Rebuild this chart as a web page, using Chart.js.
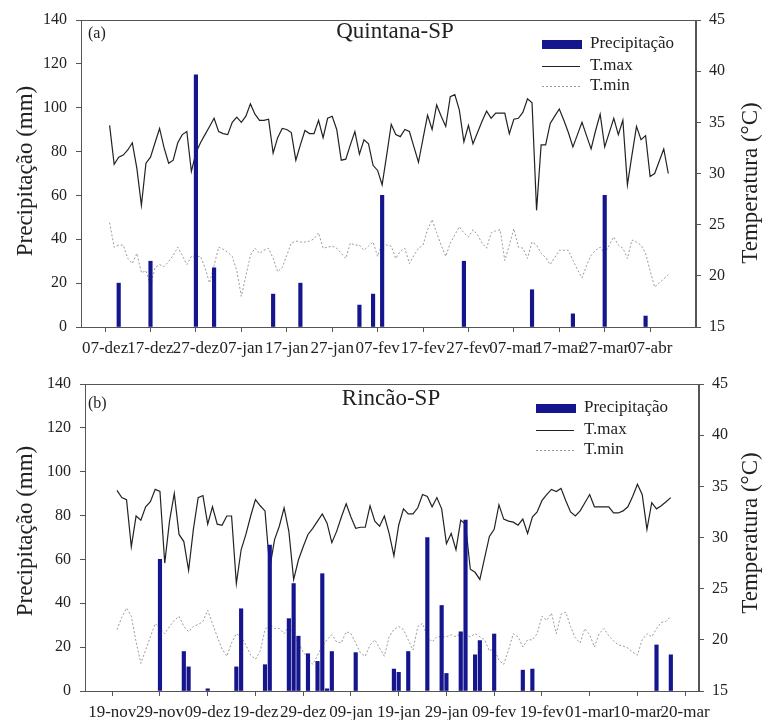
<!DOCTYPE html>
<html>
<head>
<meta charset="utf-8">
<script src="https://cdn.jsdelivr.net/npm/chart.js"></script>
<style>
  body { margin: 0; background: #fff; }
  .panel { position: absolute; left: 0; width: 767px; }
</style>
</head>
<body>
<div class="panel" style="top:0;height:365px"><canvas id="chartA"></canvas></div>
<div class="panel" style="top:365px;height:355px"><canvas id="chartB"></canvas></div>
<script>
// (a) Quintana-SP, daily values, day 0 = 07-dez
const labelsA = ['07-dez', '17-dez', '27-dez', '07-jan', '17-jan', '27-jan', '07-fev', '17-fev', '27-fev', '07-mar', '17-mar', '27-mar', '07-abr']
const tmaxA = [
  34.7, 30.9, 31.6, 31.8, 32.3, 33.0, 30.5, 26.9, 31.0, 31.6,
  33.0, 34.4, 32.5, 31.0, 31.3, 33.0, 33.8, 34.1, 30.2, 32.0,
  33.0, 33.8, 34.6, 35.4, 34.1, 33.9, 33.8, 35.0, 35.5, 35.0,
  35.6, 36.8, 35.8, 35.2, 35.2, 35.3, 32.0, 33.5, 34.4, 34.3,
  34.0, 31.3, 32.8, 34.2, 33.9, 33.9, 35.2, 33.5, 35.4, 35.6,
  34.3, 31.3, 31.4, 32.8, 34.1, 31.9, 33.3, 32.9, 30.8, 30.3,
  28.9, 31.8, 34.8, 33.8, 33.6, 34.3, 34.1, 32.6, 31.1, 33.4,
  35.7, 34.3, 36.7, 35.6, 34.6, 37.5, 37.7, 36.2, 33.1, 34.7,
  32.9, 34.0, 35.1, 36.1, 35.4, 35.9, 35.9, 35.9, 33.9, 35.3,
  35.4, 36.0, 37.3, 36.9, 26.4, 32.8, 32.8, 34.9, 35.6, 36.3,
  35.2, 34.0, 32.6, 33.8, 35.0, 33.7, 32.4, 34.2, 35.8, 32.6,
  34.0, 35.4, 33.8, 35.2, 28.9, 31.8, 34.6, 33.3, 33.7, 29.7,
  30.0, 31.2, 32.4, 30.0
]
const tminA = [
  25.2, 22.8, 23.0, 23.0, 21.7, 21.2, 22.2, 20.3, 20.5, 19.0,
  20.8, 21.1, 20.9, 21.4, 22.0, 22.8, 22.0, 21.1, 21.9, 21.9,
  21.9, 20.8, 19.3, 21.0, 22.8, 22.6, 22.3, 21.9, 20.5, 18.0,
  20.0, 22.0, 22.7, 22.2, 22.5, 22.7, 21.7, 20.4, 20.8, 22.0,
  23.2, 23.4, 23.3, 23.3, 23.4, 23.6, 24.2, 22.7, 22.8, 22.9,
  22.7, 22.2, 21.7, 23.2, 23.0, 23.0, 22.5, 22.9, 23.3, 21.9,
  23.2, 23.0, 22.9, 21.7, 22.4, 22.7, 21.2, 22.0, 22.7, 23.0,
  24.5, 25.5, 24.2, 23.0, 21.9, 23.2, 24.0, 24.8, 24.2, 23.8,
  24.5, 24.0, 23.2, 22.7, 24.2, 24.4, 24.5, 21.5, 23.0, 24.6,
  22.8, 22.7, 21.7, 23.3, 23.0, 22.2, 21.8, 21.1, 21.8, 22.5,
  22.5, 22.5, 21.5, 20.6, 19.8, 21.0, 22.0, 22.5, 22.8, 22.2,
  23.0, 23.8, 23.0, 22.7, 21.7, 23.5, 23.3, 23.0, 22.2, 20.5,
  18.9, 19.3, 19.7, 20.1
]
const rainDaysA = [3, 10, 20, 24, 37, 43, 56, 59, 61, 79, 94, 103, 110, 119]
const rainA = [20, 30, 115, 27, 15, 20, 10, 15, 60, 30, 17, 6, 60, 5]

// (b) Rincão-SP, daily values, day 0 = 19-nov
const labelsB = ['19-nov', '29-nov', '09-dez', '19-dez', '29-dez', '09-jan', '19-jan', '29-jan', '09-fev', '19-fev', '01-mar', '10-mar', '20-mar']
const tmaxB = [
  34.6, 33.9, 33.7, 29.1, 32.1, 31.7, 33.0, 33.5, 34.7, 34.5,
  27.5, 31.6, 34.3, 30.3, 29.6, 26.8, 30.8, 33.9, 34.1, 31.3,
  33.0, 31.3, 31.2, 32.1, 32.1, 25.5, 28.8, 30.3, 32.1, 33.7,
  33.1, 32.6, 27.0, 29.8, 31.1, 32.9, 30.6, 25.9, 27.8, 29.1,
  30.3, 30.9, 31.6, 32.3, 31.4, 29.5, 30.6, 32.0, 33.3, 32.0,
  30.9, 31.0, 31.0, 33.1, 31.6, 31.1, 32.1, 30.4, 28.2, 31.2,
  32.8, 32.3, 32.3, 32.9, 34.2, 34.0, 33.0, 33.9, 32.8, 29.4,
  30.4, 28.8, 31.7, 31.3, 26.9, 26.6, 25.9, 28.0, 30.1, 30.8,
  33.2, 31.8, 31.6, 31.5, 31.2, 31.8, 30.4, 32.0, 32.5, 33.6,
  34.2, 34.7, 34.5, 34.8, 33.6, 32.5, 32.1, 32.6, 33.4, 34.2,
  33.0, 33.0, 33.0, 33.0, 32.4, 32.4, 32.6, 33.0, 34.0, 35.2,
  34.2, 30.8, 33.4, 32.8, 33.1, 33.5, 33.9
]
const tminB = [
  21.0, 22.2, 23.1, 22.3, 19.8, 17.7, 19.0, 20.3, 21.6, 21.1,
  20.6, 21.3, 21.9, 22.3, 21.3, 20.8, 21.3, 21.5, 21.8, 22.9,
  21.6, 20.3, 19.1, 18.4, 19.7, 20.6, 20.3, 19.5, 18.5, 18.1,
  18.9, 21.0, 21.5, 21.1, 21.1, 20.6, 21.3, 20.5, 19.7, 18.8,
  18.2, 17.6, 18.5, 19.4, 20.0, 20.5, 19.8, 19.7, 20.8, 20.6,
  19.7, 18.7, 18.4, 19.5, 20.0, 19.2, 18.4, 20.3, 21.0, 21.3,
  21.0, 20.0, 19.0, 21.3, 21.6, 20.3, 19.8, 20.3, 20.3, 20.3,
  20.5, 20.3, 20.6, 20.5, 20.3, 20.6, 20.3, 20.0, 18.9, 19.2,
  18.0, 17.6, 19.0, 20.6, 20.3, 19.3, 20.0, 20.0, 20.6, 22.3,
  21.9, 22.6, 20.6, 22.5, 22.7, 21.3, 20.2, 19.7, 21.1, 20.5,
  19.3, 20.6, 21.1, 20.4, 19.9, 19.5, 19.4, 19.2, 18.8, 18.5,
  20.0, 20.6, 20.3, 21.1, 21.7, 21.8, 22.3
]
const rainDaysB = [10, 15, 16, 20, 26, 27, 32, 33, 37, 38, 39, 41, 43, 44, 45, 46, 51, 59, 60, 62, 66, 69, 70, 73, 74, 76, 77, 80, 86, 88, 114, 117]
const rainB = [60, 18, 11, 1, 11, 37.5, 12, 66.5, 33, 49, 25, 17, 13.5, 53.5, 1, 18, 17.5, 10, 8.5, 18, 70, 39, 8, 27, 78, 16.5, 23, 26, 9.5, 10, 21, 16.5]

const xTicks = [0, 10, 20, 30, 40, 50, 60, 70, 80, 90, 100, 110, 120]

const FONT = "'Liberation Serif', 'Times New Roman', serif"
const TEXT = '#222'
const AXIS = '#555'
const BLUE = '#15158e'

// frame, legend, titles drawn inside the plot
const decorations = {
  id: 'decorations',
  afterDraw(chart, args, o) {
    const { ctx, chartArea: a } = chart
    ctx.save()
    ctx.strokeStyle = AXIS
    ctx.lineWidth = 1
    ctx.strokeRect(Math.round(a.left) + 0.5, Math.round(a.top) + 0.5, Math.round(a.right - a.left) - 1, Math.round(a.bottom - a.top))

    ctx.fillStyle = TEXT
    ctx.textBaseline = 'middle'
    ctx.font = '16px ' + FONT
    ctx.textAlign = 'left'
    ctx.fillText(o.tag, 88, a.top + o.tagY)

    ctx.font = '23px ' + FONT
    ctx.textAlign = 'center'
    ctx.fillText(o.title, o.titleX, a.top + o.titleY)

    // legend
    const lx = o.legendX
    ctx.fillStyle = BLUE
    ctx.fillRect(lx, a.top + 20, 40, 9)
    ctx.strokeStyle = '#222'
    ctx.lineWidth = 1.2
    ctx.beginPath()
    ctx.moveTo(lx, a.top + 46.5)
    ctx.lineTo(lx + 38, a.top + 46.5)
    ctx.stroke()
    ctx.strokeStyle = '#999'
    ctx.lineWidth = 1
    ctx.setLineDash([2, 2])
    ctx.beginPath()
    ctx.moveTo(lx, a.top + 66.5)
    ctx.lineTo(lx + 38, a.top + 66.5)
    ctx.stroke()
    ctx.setLineDash([])
    ctx.fillStyle = TEXT
    ctx.font = '17px ' + FONT
    ctx.textAlign = 'left'
    ctx.fillText('Precipitação', lx + 48, a.top + 24)
    ctx.fillText('T.max', lx + 48, a.top + 46)
    ctx.fillText('T.min', lx + 48, a.top + 66)

    // axis titles, both reading bottom to top
    ctx.font = '23px ' + FONT
    ctx.textAlign = 'center'
    ctx.save()
    ctx.translate(26, o.leftTitleY)
    ctx.rotate(-Math.PI / 2)
    ctx.fillText('Precipitação (mm)', 0, 0)
    ctx.restore()
    ctx.save()
    ctx.translate(751, o.rightTitleY)
    ctx.rotate(-Math.PI / 2)
    ctx.fillText('Temperatura (°C)', 0, 0)
    ctx.restore()
    ctx.restore()
  }
}

function toPoints(values, firstDay) {
  return values.map((v, i) => ({ x: firstDay + i, y: v }))
}

function makePanel(canvasId, p) {
  const tickFont = { family: FONT, size: 16 }
  return new Chart(document.getElementById(canvasId), {
    type: 'bar',
    data: {
      datasets: [
        {
          label: 'Precipitação',
          data: p.rainDays.map((d, i) => ({ x: d, y: p.rain[i] })),
          backgroundColor: BLUE,
          barThickness: 3.5,
          yAxisID: 'y',
          order: 0
        },
        {
          type: 'line',
          label: 'T.max',
          data: toPoints(p.tmax, 1),
          borderColor: '#222',
          borderWidth: 1.2,
          pointRadius: 0,
          tension: 0,
          yAxisID: 'y2',
          order: 1
        },
        {
          type: 'line',
          label: 'T.min',
          data: toPoints(p.tmin, 1),
          borderColor: '#999',
          borderWidth: 1,
          borderDash: [2, 2],
          pointRadius: 0,
          tension: 0,
          yAxisID: 'y2',
          order: 2
        }
      ]
    },
    options: {
      responsive: true,
      maintainAspectRatio: false,
      animation: false,
      layout: { padding: { top: p.top, left: 0, right: 0, bottom: 0 } },
      plugins: {
        legend: { display: false },
        tooltip: { enabled: false },
        decorations: p.deco
      },
      scales: {
        x: {
          type: 'linear',
          min: p.xMin,
          max: p.xMax,
          offset: false,
          afterBuildTicks: s => { s.ticks = xTicks.map(v => ({ value: v })) },
          afterFit: s => { s.height = p.bottomH },
          ticks: {
            callback: (v, i) => p.labels[i],
            autoSkip: false,
            maxRotation: 0,
            padding: 6,
            font: { family: FONT, size: 17 },
            color: TEXT
          },
          grid: { drawOnChartArea: false, offset: false, tickLength: 5, color: AXIS },
          border: { color: AXIS }
        },
        y: {
          position: 'left',
          min: 0,
          max: 140,
          afterFit: s => { s.width = p.leftW },
          ticks: { stepSize: 20, padding: 9, font: tickFont, color: TEXT },
          grid: { drawOnChartArea: false, tickLength: 5, color: AXIS },
          border: { color: AXIS }
        },
        y2: {
          position: 'right',
          min: 15,
          max: 45,
          afterFit: s => { s.width = p.rightW },
          ticks: { stepSize: 5, padding: 8, font: tickFont, color: TEXT },
          grid: { drawOnChartArea: false, tickLength: 5, color: AXIS },
          border: { color: AXIS }
        }
      }
    },
    plugins: [decorations]
  })
}

makePanel('chartA', {
  labels: labelsA, tmax: tmaxA, tmin: tminA, rainDays: rainDaysA, rain: rainA,
  xMin: -5.3, xMax: 130.1, top: 20, bottomH: 38, leftW: 81, rightW: 71,
  deco: { tag: '(a)', tagY: 14, title: 'Quintana-SP', titleX: 395, titleY: 12, legendX: 542, leftTitleY: 171, rightTitleY: 183 }
})

makePanel('chartB', {
  labels: labelsB, tmax: tmaxB, tmin: tminB, rainDays: rainDaysB, rain: rainB,
  xMin: -5.7, xMax: 122.9, top: 19, bottomH: 29, leftW: 85, rightW: 68,
  deco: { tag: '(b)', tagY: 20, title: 'Rincão-SP', titleX: 391, titleY: 15, legendX: 536, leftTitleY: 531 - 365, rightTitleY: 533 - 365 }
})
</script>
</body>
</html>
